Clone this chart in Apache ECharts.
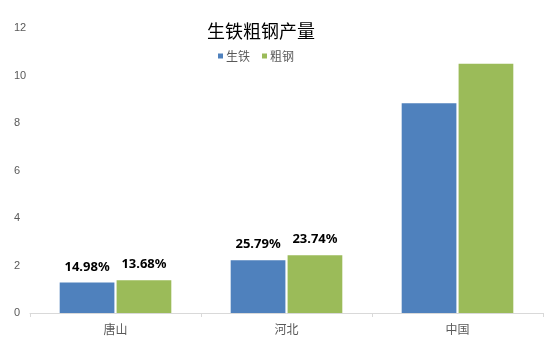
<!DOCTYPE html>
<html>
<head>
<meta charset="utf-8">
<script src="https://cdn.jsdelivr.net/npm/echarts@6/dist/echarts.min.js"></script>
<style>
  html, body { margin: 0; padding: 0; background: #fff; }
  #chart { width: 550px; height: 353px; }
</style>
</head>
<body>
<div id="chart"></div>
<script>
const categories = ['唐山', '河北', '中国'];
const ironValues = [1.28, 2.22, 8.83];
const steelValues = [1.38, 2.43, 10.5];
const ironShare = ['14.98%', '25.79%', ''];
const steelShare = ['13.68%', '23.74%', ''];

const chart = echarts.init(document.getElementById('chart'));
const cjk = '"Noto Sans CJK SC", "Noto Sans", sans-serif';

function pctLabel(shares) {
  return {
    show: true,
    position: 'top',
    distance: 9,
    color: '#000',
    fontSize: 13,
    fontWeight: 'bold',
    fontFamily: '"Noto Sans", "Liberation Sans", sans-serif',
    formatter: p => shares[p.dataIndex]
  };
}

const option = {
  animation: false,
  title: {
    text: '生铁粗钢产量',
    left: 202,
    top: 17,
    textStyle: { fontSize: 18, fontWeight: 'normal', color: '#000', fontFamily: cjk }
  },
  legend: {
    left: 213,
    top: 45,
    itemWidth: 5,
    itemHeight: 5,
    itemGap: 12,
    icon: 'rect',
    textStyle: { fontSize: 12, color: '#595959', fontFamily: cjk, padding: [0, 0, 0, -2] },
    data: ['生铁', '粗钢']
  },
  grid: { left: 30, right: 7, top: 28, bottom: 40, containLabel: false },
  xAxis: {
    type: 'category',
    data: categories,
    axisLine: { lineStyle: { color: '#d9d9d9' } },
    axisTick: { show: true, alignWithLabel: false, length: 4, lineStyle: { color: '#d9d9d9' } },
    axisLabel: { color: '#595959', fontSize: 12, fontFamily: cjk, margin: 10 }
  },
  yAxis: {
    type: 'value',
    min: 0,
    max: 12,
    interval: 2,
    axisLine: { show: false },
    axisTick: { show: false },
    splitLine: { show: false },
    axisLabel: { color: '#595959', fontSize: 11, fontFamily: '"Liberation Sans", sans-serif', margin: 14, align: 'left', padding: [0, 0, 0, -2] }
  },
  series: [
    {
      name: '生铁',
      type: 'bar',
      data: ironValues,
      barWidth: '32%',
      barGap: '4%',
      itemStyle: { color: '#4f81bd' },
      label: pctLabel(ironShare)
    },
    {
      name: '粗钢',
      type: 'bar',
      data: steelValues,
      barWidth: '32%',
      barGap: '4%',
      itemStyle: { color: '#9bbb59' },
      label: pctLabel(steelShare)
    }
  ]
};

chart.setOption(option);
</script>
</body>
</html>
